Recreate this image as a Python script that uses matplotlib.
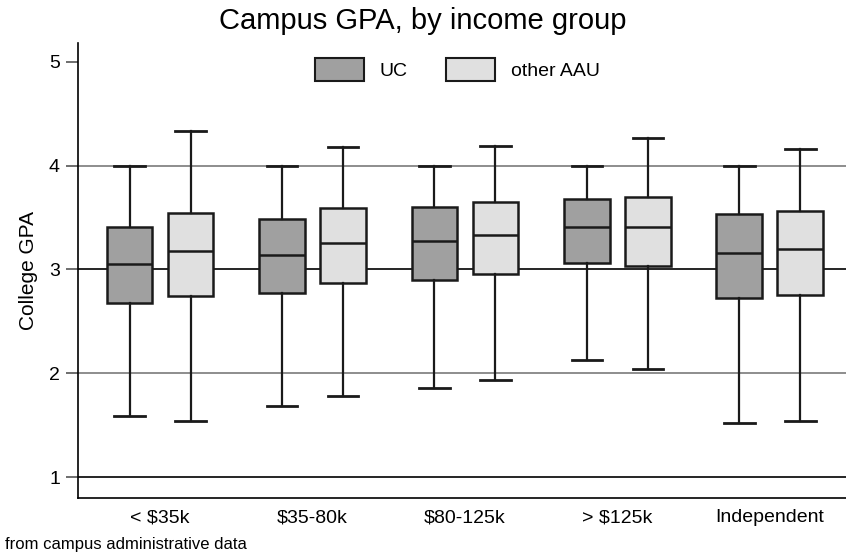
import matplotlib
matplotlib.use("Agg")
import matplotlib.pyplot as plt
from matplotlib.patches import Patch
from matplotlib import font_manager

fams = [f.name for f in font_manager.fontManager.ttflist]
font = "Liberation Sans Narrow" if "Liberation Sans Narrow" in fams else "Liberation Sans"
plt.rcParams['font.family'] = [font, 'DejaVu Sans']

categories = ["< $35k", "$35-80k", "$80-125k", "> $125k", "Independent"]
series = ["UC", "other AAU"]
# (whislo, q1, med, q3, whishi)
uc_stats = [
    (1.59, 2.68, 3.05, 3.41, 4.00),
    (1.69, 2.77, 3.14, 3.49, 4.00),
    (1.86, 2.90, 3.27, 3.60, 4.00),
    (2.13, 3.06, 3.41, 3.68, 4.00),
    (1.52, 2.73, 3.16, 3.53, 4.00),
]
aau_stats = [
    (1.54, 2.74, 3.18, 3.54, 4.33),
    (1.78, 2.87, 3.25, 3.59, 4.18),
    (1.94, 2.96, 3.33, 3.65, 4.19),
    (2.04, 3.03, 3.41, 3.70, 4.27),
    (1.54, 2.75, 3.20, 3.56, 4.16),
]
yticks = [1, 2, 3, 4, 5]
colors = ["#a0a0a0", "#e0e0e0"]

fig = plt.figure(figsize=(8.46, 5.54), dpi=100)
ax = fig.add_axes([78/846, 1-498/554, 1-78/846, (498-43)/554])

def mk(stats):
    return [dict(whislo=s[0], q1=s[1], med=s[2], q3=s[3], whishi=s[4], fliers=[]) for s in stats]

# gridlines
for y in [1, 2, 3, 4]:
    c = "black" if y in (1, 3) else "#7a7a7a"
    ax.axhline(y, color=c, lw=1.2, zorder=0)

for i, (stats, off) in enumerate([(uc_stats, -0.2), (aau_stats, 0.2)]):
    pos = [k + off for k in range(len(categories))]
    ax.bxp(mk(stats), positions=pos, widths=0.30, patch_artist=True,
           showfliers=False, capwidths=0.2,
           boxprops=dict(facecolor=colors[i], edgecolor="#1a1a1a", linewidth=1.8),
           medianprops=dict(color="#1a1a1a", linewidth=1.8),
           whiskerprops=dict(color="#1a1a1a", linewidth=1.6),
           capprops=dict(color="#1a1a1a", linewidth=2.0), zorder=2)

ax.set_xlim(-0.538, 4.5)
ax.set_ylim(0.80, 5.18)
ax.set_xticks(range(len(categories)))
ax.set_xticklabels(categories, fontsize=14)
ax.set_yticks(yticks)
ax.set_yticklabels([str(t) for t in yticks], fontsize=14)
ax.tick_params(axis='x', length=0, pad=8)
ax.tick_params(axis='y', length=9, width=1.2, color="#555555", pad=4)
for s in ["top", "right"]:
    ax.spines[s].set_visible(False)
ax.spines["left"].set_linewidth(1.2)
ax.spines["bottom"].set_linewidth(1.2)
ax.set_ylabel("College GPA", fontsize=15, labelpad=8)

handles = [Patch(facecolor=colors[j], edgecolor="#1a1a1a", linewidth=1.5, label=series[j]) for j in range(2)]
ax.legend(handles=handles, loc="upper center", bbox_to_anchor=(0.494, 1.005), ncol=2, frameon=False,
          fontsize=14, handlelength=2.5, handleheight=1.4, columnspacing=2.0, handletextpad=0.8)

fig.text(0.5, 1-21/554, "Campus GPA, by income group", ha="center", va="center", fontsize=21)
fig.text(5/846, 1-545/554, "from campus administrative data", ha="left", va="center", fontsize=12)

fig.savefig("out.png", dpi=100)
